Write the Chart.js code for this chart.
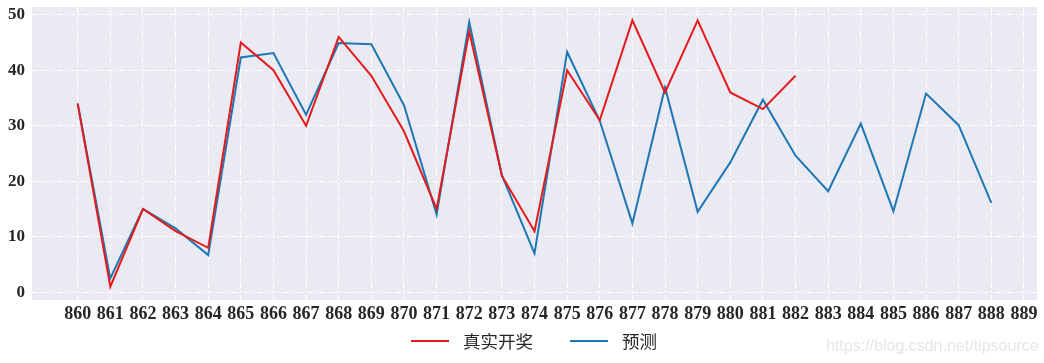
<!DOCTYPE html>
<html>
<head>
<meta charset="utf-8">
<script src="https://cdn.jsdelivr.net/npm/chart.js@4/dist/chart.umd.min.js"></script>
<style>
  html, body { margin: 0; padding: 0; background: #ffffff; }
  #wrap { width: 1044px; height: 363px; position: relative; }
</style>
</head>
<body>
<div id="wrap"><canvas id="c" width="1044" height="363"></canvas></div>
<script>
// ---- DATA ----
const periods = [860, 861, 862, 863, 864, 865, 866, 867, 868, 869, 870, 871, 872, 873, 874, 875, 876, 877, 878, 879, 880, 881, 882, 883, 884, 885, 886, 887, 888];
const xTickLabels = [860, 861, 862, 863, 864, 865, 866, 867, 868, 869, 870, 871, 872, 873, 874, 875, 876, 877, 878, 879, 880, 881, 882, 883, 884, 885, 886, 887, 888, 889];
const yTickLabels = [0, 10, 20, 30, 40, 50];
const actualValues = [34, 1, 15, 11, 8, 45, 40, 30, 46, 39, 29, 15, 47, 21, 11, 40, 31, 49, 36, 49, 36, 33, 39];
const predictedValues = [34, 2.5, 15, 11.5, 6.7, 42.3, 43.1, 32.0, 44.9, 44.7, 33.7, 14.0, 48.7, 21.1, 7.0, 43.3, 30.9, 12.4, 36.9, 14.5, 23.4, 34.7, 24.6, 18.2, 30.4, 14.6, 35.8, 30.1, 16.1];
const seriesNames = ['真实开奖', '预测'];
const watermark = 'https://blog.csdn.net/tipsource';

const RED = '#e41a1c';
const BLUE = '#1f77b4';

const toPoints = (vals) => vals.map((v, i) => ({ x: periods[i], y: v }));

const bgPlugin = {
  id: 'plotBg',
  beforeDraw(chart) {
    const { ctx, chartArea: a } = chart;
    ctx.save();
    ctx.fillStyle = '#eaeaf2';
    ctx.fillRect(a.left, a.top, a.right - a.left, a.bottom - a.top);
    ctx.restore();
  }
};

const legendPlugin = {
  id: 'bottomLegend',
  afterDraw(chart) {
    const ctx = chart.ctx;
    ctx.save();
    const y = 341;
    const items = [
      { x0: 411, x1: 449, tx: 463, ds: chart.data.datasets[0] },
      { x0: 570, x1: 608, tx: 622, ds: chart.data.datasets[1] }
    ];
    ctx.font = '17.5px "Noto Sans CJK SC"';
    ctx.textBaseline = 'middle';
    ctx.textAlign = 'left';
    items.forEach(it => {
      ctx.strokeStyle = it.ds.borderColor;
      ctx.lineWidth = 2;
      ctx.beginPath();
      ctx.moveTo(it.x0, y);
      ctx.lineTo(it.x1, y);
      ctx.stroke();
      ctx.fillStyle = '#262626';
      ctx.fillText(it.ds.label, it.tx, y);
    });
    // watermark
    ctx.font = '16px "Liberation Sans"';
    ctx.fillStyle = '#e6e6e6';
    ctx.textAlign = 'left';
    ctx.textBaseline = 'alphabetic';
    ctx.fillText(watermark, 826, 350.5);
    ctx.restore();
  }
};

new Chart(document.getElementById('c'), {
  type: 'line',
  data: {
    datasets: [
      {
        label: seriesNames[0],
        data: toPoints(actualValues),
        borderColor: RED,
        backgroundColor: RED,
        borderWidth: 2,
        pointRadius: 0,
        tension: 0,
        fill: false
      },
      {
        label: seriesNames[1],
        data: toPoints(predictedValues),
        borderColor: BLUE,
        backgroundColor: BLUE,
        borderWidth: 2,
        pointRadius: 0,
        tension: 0,
        fill: false
      }
    ]
  },
  options: {
    responsive: false,
    animation: false,
    devicePixelRatio: 1,
    layout: { padding: { left: 0, top: 7, right: 7, bottom: 0 } },
    plugins: {
      legend: { display: false },
      tooltip: { enabled: false }
    },
    scales: {
      x: {
        type: 'linear',
        min: 858.6,
        max: 889.4,
        afterBuildTicks(scale) { scale.ticks = xTickLabels.map(v => ({ value: v })); },
        afterFit(scale) { scale.height = 63; scale.paddingLeft = 0; scale.paddingRight = 0; },
        ticks: {
          autoSkip: false,
          maxRotation: 0,
          padding: 4,
          color: '#262626',
          font: { family: '"Liberation Serif"', size: 18, weight: 'bold' },
          callback: (v) => String(v)
        },
        grid: { color: '#ffffff', lineWidth: 1, drawTicks: false },
        border: { display: false, dash: [6, 2.5, 1.5, 2.5] }
      },
      y: {
        type: 'linear',
        min: -1.4,
        max: 51.4,
        afterBuildTicks(scale) { scale.ticks = yTickLabels.map(v => ({ value: v })); },
        afterFit(scale) { scale.width = 32; scale.paddingTop = 0; scale.paddingBottom = 0; },
        ticks: {
          padding: 7,
          color: '#262626',
          font: { family: '"Liberation Serif"', size: 17, weight: 'bold' },
          callback: (v) => String(v)
        },
        grid: { color: '#ffffff', lineWidth: 1, drawTicks: false },
        border: { display: false, dash: [6, 2.5, 1.5, 2.5] }
      }
    }
  },
  plugins: [bgPlugin, legendPlugin]
});
</script>
</body>
</html>
